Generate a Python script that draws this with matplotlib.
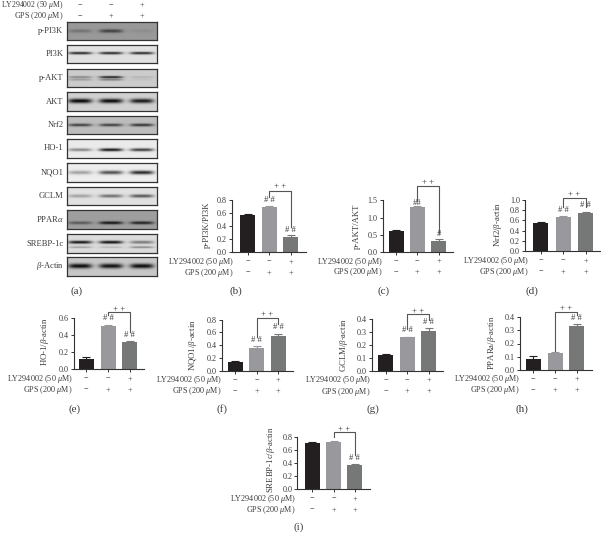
import numpy as np
import matplotlib
matplotlib.use("Agg")
import matplotlib.pyplot as plt
from matplotlib.lines import Line2D
from matplotlib.transforms import Affine2D

plt.rcParams.update({
    "font.family": ["Liberation Serif", "DejaVu Serif"],
    "mathtext.fontset": "custom",
    "mathtext.rm": "Liberation Serif",
    "mathtext.it": "Liberation Serif:italic",
    "mathtext.bf": "Liberation Serif:bold",
})

W, H = 601, 533
TXT = "#3c3c3c"
LY = r"LY294002 (50 $\mu$M)"
GPS = r"GPS (200 $\mu$M)"
ly_signs = ["\u2212", "\u2212", "+"]
gps_signs = ["\u2212", "+", "+"]
bar_colors = ["#231f20", "#98989d", "#757877"]

# ---- bar data ----
b_vals = [0.58, 0.70, 0.24]; b_errs = [0.01, 0.02, 0.02]
c_vals = [0.60, 1.31, 0.32]; c_errs = [0.03, 0.02, 0.06]
d_vals = [0.54, 0.66, 0.74]; d_errs = [0.02, 0.02, 0.03]
e_vals = [0.125, 0.50, 0.32]; e_errs = [0.015, 0.02, 0.01]
f_vals = [0.13, 0.35, 0.55]; f_errs = [0.03, 0.03, 0.02]
g_vals = [0.125, 0.26, 0.31]; g_errs = [0.01, 0.005, 0.025]
h_vals = [0.08, 0.125, 0.335]; h_errs = [0.025, 0.012, 0.017]
i_vals = [0.70, 0.72, 0.37]; i_errs = [0.02, 0.02, 0.01]

# ---- blot band strengths ----
blot_names = ["p-PI3K", "PI3K", "p-AKT", "AKT", "Nrf2", "HO-1", "NQO1", "GCLM",
              r"PPAR$\alpha$", "SREBP-1c", r"$\beta$-Actin"]
blot_bg = [0.60, 0.88, 0.80, 0.82, 0.74, 0.92, 0.93, 0.88, 0.62, 0.86, 0.78]
blot_main = [[0.15, 0.35, 0.05], [0.75, 0.75, 0.75], [0.30, 0.72, 0.10],
             [0.80, 0.78, 0.72], [0.50, 0.50, 0.55], [0.40, 0.85, 0.70],
             [0.30, 0.62, 0.78], [0.25, 0.45, 0.55], [0.28, 0.55, 0.50],
             [0.80, 0.82, 0.40], [0.74, 0.72, 0.74]]
blot_second = [[0, 0, 0], [0, 0, 0], [0.22, 0.35, 0.05], [0, 0, 0], [0, 0, 0], [0, 0, 0],
               [0, 0, 0], [0, 0, 0], [0, 0, 0], [0.25, 0.15, 0.35], [0, 0, 0]]
blot_center = [0.50, 0.45, 0.45, 0.47, 0.50, 0.57, 0.50, 0.50, 0.68, 0.43, 0.50]
blot_thick = [0.10, 0.07, 0.06, 0.12, 0.08, 0.08, 0.10, 0.09, 0.08, 0.08, 0.12]
blot_offset = [0, 0, 0.15, 0, 0, 0, 0, 0, 0, 0.27, 0]

# ---- layout (pixels) ----
blot_tops = [22, 45, 69, 92, 116, 139, 163, 187, 210, 234, 257]
blot_bots = [40, 63, 87, 111, 134, 158, 182, 205, 229, 253, 276]

panels = {
    "b": dict(v=b_vals, e=b_errs, ymax=0.8, ticks=[0, .2, .4, .6, .8], fmt="%.1f",
              l=232, r=306, t=200.3, bt=252.3, c0=247.7, c2=290.7,
              yl="p-PI3K/PI3K", ylx=207.3, yly=225, lab=(236, 290.7), rl=234,
              br=(190.7, 197.3, 227.3, 186.3), m1=("# #", 200), m2=("# #", 230)),
    "c": dict(v=c_vals, e=c_errs, ymax=1.5, ticks=[0, .5, 1, 1.5], fmt="%.1f",
              l=382.7, r=453, t=200.3, bt=252, c0=396, c2=438.7,
              yl="p-AKT/AKT", ylx=356.7, yly=226, lab=(384, 290.7), rl=382.7,
              br=(185.7, 200, 233, 182), m1=("##", 202.7), m2=("#", 234)),
    "d": dict(v=d_vals, e=d_errs, ymax=1.0, ticks=[0, .2, .4, .6, .8, 1], fmt="%.1f",
              l=525, r=601, t=199.7, bt=251.3, c0=540.7, c2=585.7,
              yl=r"Nrf2/$\beta$-actin", ylx=498.3, yly=224, lab=(532, 290.7), rl=529,
              br=(197.7, 207, 207, 193.7), m1=("# #", 210), m2=("# #", 205.3)),
    "e": dict(v=e_vals, e=e_errs, ymax=0.6, ticks=[0, .2, .4, .6], fmt="%.1f",
              l=74, r=144, t=317.7, bt=369.3, c0=86.3, c2=129.7,
              yl=r"HO-1/$\beta$-actin", ylx=45, yly=342, lab=(75, 409), rl=72.7,
              br=(311.7, 315, 331.7, 309), m1=("# #", 318.3), m2=("# #", 335)),
    "f": dict(v=f_vals, e=f_errs, ymax=0.8, ticks=[0, .2, .4, .6, .8], fmt="%.1f",
              l=221.7, r=293, t=319.7, bt=370.7, c0=235, c2=278.3,
              yl=r"NQO1/$\beta$-actin", ylx=193, yly=345, lab=(222, 409), rl=221.7,
              br=(318, 337.3, 324, 314.3), m1=("# #", 340.3), m2=("# #", 327.3)),
    "g": dict(v=g_vals, e=g_errs, ymax=0.4, ticks=[0, .1, .2, .3, .4], fmt="%.1f",
              l=371.7, r=443, t=319.3, bt=371, c0=385.7, c2=428.7,
              yl=r"GCLM/$\beta$-actin", ylx=344, yly=345, lab=(372.7, 409), rl=371,
              br=(313.7, 329.3, 320, 311), m1=("# #", 330), m2=("# #", 322.3)),
    "h": dict(v=h_vals, e=h_errs, ymax=0.4, ticks=[0, .1, .2, .3, .4], fmt="%.1f",
              l=520, r=591.7, t=317.3, bt=369.7, c0=533.3, c2=576.7,
              yl=r"PPARa/$\beta$-actin", ylx=491.7, yly=343, lab=(521.7, 409), rl=520,
              br=(312, 350.7, 315, 308.3), m1=None, m2=("# #", 318.3)),
    "i": dict(v=i_vals, e=i_errs, ymax=0.8, ticks=[0, .2, .4, .6, .8], fmt="%.1f",
              l=297.3, r=370, t=436.7, bt=489.3, c0=312.3, c2=354.7,
              yl=r"SREBP-1c/$\beta$-actin", ylx=270.7, yly=460, lab=(299, 527), rl=295.7,
              br=(432, 437.3, 455, 428.7), m1=None, m2=("# #", 458)),
}

fig = plt.figure(figsize=(W / 100, H / 100), dpi=100, facecolor="white")
T = Affine2D().scale(1, -1).translate(0, H)


def put(x, y, s, size=5.9, ha="center", rot=0):
    fig.text(x, y, s, transform=T, ha=ha, va="center", fontsize=size, color=TXT, rotation=rot)


def seg(xs, ys):
    fig.add_artist(Line2D(xs, ys, transform=T, color="#555555", lw=0.8))


# ---- western blots ----
blot_l, blot_r = 67, 157
lane_px = [80, 111, 142]
put(63.5, 5, LY, size=5.6, ha="right")
put(63.5, 16.2, GPS, ha="right")
for lane, a, b in zip(lane_px, ly_signs, gps_signs):
    put(lane, 5, a)
    put(lane, 16.2, b)

for k, name in enumerate(blot_names):
    top, bot = blot_tops[k], blot_bots[k]
    ax = fig.add_axes([blot_l / W, 1 - bot / H, (blot_r - blot_l) / W, (bot - top) / H])
    xs = np.linspace(blot_l, blot_r, 180)
    ys = np.linspace(0, 1, 40)
    X, Y = np.meshgrid(xs, ys)
    img = np.full(X.shape, blot_bg[k], dtype=float)
    for j, lane in enumerate(lane_px):
        prof = np.exp(-((X - lane) / 12.0) ** 4)
        img -= blot_main[k][j] * prof * np.exp(-((Y - blot_center[k]) / blot_thick[k]) ** 2)
        img -= blot_second[k][j] * prof * np.exp(-((Y - blot_center[k] - blot_offset[k]) / 0.05) ** 2)
    ax.imshow(img, cmap="gray", vmin=0, vmax=1, aspect="auto", interpolation="bilinear")
    ax.set_xticks([]); ax.set_yticks([])
    for s in ax.spines.values():
        s.set_linewidth(0.9); s.set_color("#333333")
    put(63.5, (top + bot) / 2, name, size=6.1, ha="right")
put(76.7, 290.7, "(a)", size=8)

# ---- bar panels ----
for key, p in panels.items():
    sp = (p["c2"] - p["c0"]) / 2
    ax = fig.add_axes([p["l"] / W, 1 - p["bt"] / H, (p["r"] - p["l"]) / W, (p["bt"] - p["t"]) / H])
    pos = np.arange(3)
    ax.bar(pos, p["v"], width=15 / sp, color=bar_colors, zorder=2)
    for x, v, e, col in zip(pos, p["v"], p["e"], bar_colors):
        ax.errorbar(x, v, yerr=[[0], [e]], color=col, capsize=3, lw=0.8, capthick=0.8, zorder=1)
    ax.set_xlim((p["l"] - p["c0"]) / sp, (p["r"] - p["c0"]) / sp)
    ax.set_ylim(0, p["ymax"])
    ax.set_yticks(p["ticks"])
    ax.set_yticklabels([p["fmt"] % t for t in p["ticks"]], fontsize=5.9, color=TXT)
    ax.set_xticks(pos); ax.set_xticklabels([])
    ax.tick_params(length=2, width=0.7, color="#333333", pad=1.5)
    ax.patch.set_alpha(0)
    for s in ("top", "right"):
        ax.spines[s].set_visible(False)
    for s in ("left", "bottom"):
        ax.spines[s].set_linewidth(0.8); ax.spines[s].set_color("#333333")

    centers = [p["c0"] + i * sp for i in range(3)]
    put(p["rl"], p["bt"] + 9.5, LY, ha="right")
    put(p["rl"], p["bt"] + 20.5, GPS, ha="right")
    for c, a, b in zip(centers, ly_signs, gps_signs):
        put(c, p["bt"] + 9.5, a)
        put(c, p["bt"] + 20.5, b)
    put(p["ylx"], p["yly"], p["yl"], size=6.3, rot=90)
    put(*p["lab"], f"({key})", size=8)

    top, lb, rb, plus = p["br"]
    seg([centers[1], centers[1], centers[2], centers[2]], [lb, top, top, rb])
    put((centers[1] + centers[2]) / 2, plus, "+ +", size=6.3)
    if p["m1"]:
        put(centers[1], p["m1"][1], p["m1"][0], size=6.2)
    if p["m2"]:
        put(centers[2], p["m2"][1], p["m2"][0], size=6.2)

fig.savefig("out.png", dpi=100)
